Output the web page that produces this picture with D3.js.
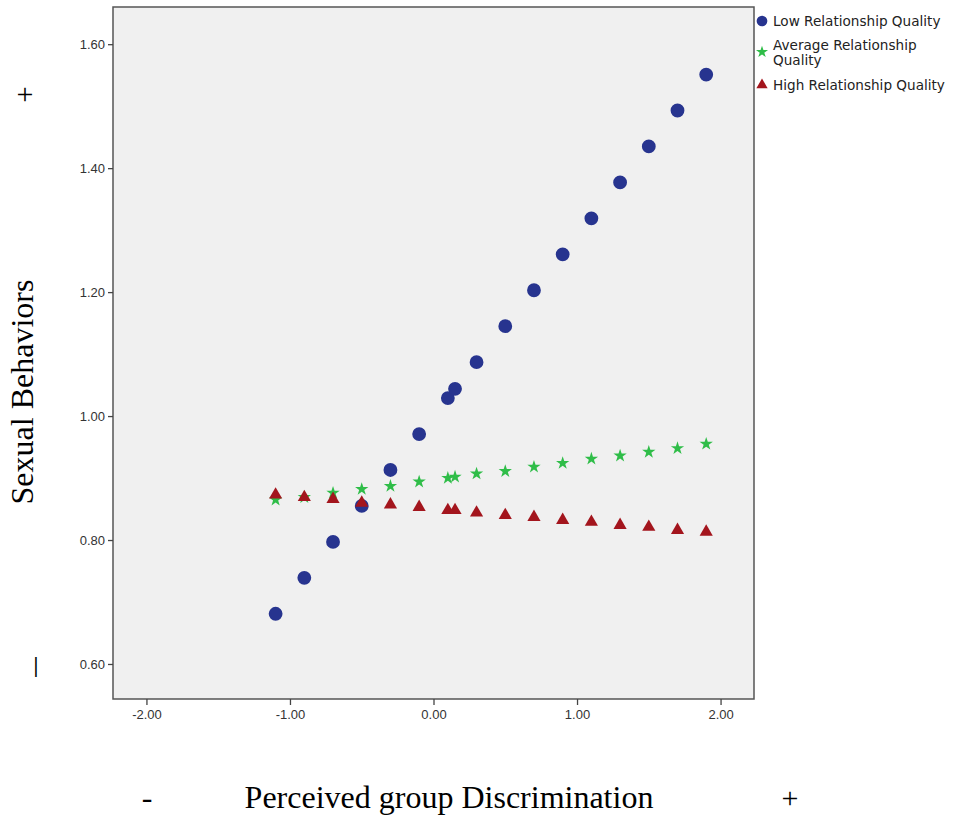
<!DOCTYPE html>
<html>
<head>
<meta charset="utf-8">
<script src="https://cdn.jsdelivr.net/npm/d3@7"></script>
<style>
  body { margin: 0; background: #fff; overflow: hidden; }
  svg { display: block; }
</style>
</head>
<body>
<svg></svg>
<script>
// Data
const xValues = [-1.1, -0.9, -0.7, -0.5, -0.3, -0.1, 0.1, 0.15, 0.3, 0.5, 0.7, 0.9, 1.1, 1.3, 1.5, 1.7, 1.9]
const lowQuality = [0.681, 0.739, 0.797, 0.855, 0.913, 0.971, 1.029, 1.044, 1.087, 1.145, 1.203, 1.261, 1.319, 1.377, 1.435, 1.493, 1.551]
const avgQuality = [0.865, 0.869, 0.876, 0.882, 0.887, 0.894, 0.900, 0.902, 0.907, 0.911, 0.918, 0.924, 0.931, 0.936, 0.942, 0.948, 0.955]
const highQuality = [0.873, 0.869, 0.866, 0.860, 0.857, 0.853, 0.848, 0.848, 0.844, 0.840, 0.837, 0.832, 0.829, 0.824, 0.821, 0.816, 0.813]
const seriesNames = ["Low Relationship Quality", "Average Relationship Quality", "High Relationship Quality"]
const xTicks = [-2, -1, 0, 1, 2]
const yTicks = [0.6, 0.8, 1.0, 1.2, 1.4, 1.6]

const width = 956
const height = 819

const svg = d3.select("svg")
    .attr("width", width)
    .attr("height", height)

const margin = { top: 7, left: 113 }
const innerWidth = 641
const innerHeight = 692

const xScale = d3.scaleLinear()
    .domain([-2.233, 2.233])
    .range([0, innerWidth])

const yScale = d3.scaleLinear()
    .domain([0.5435, 1.66])
    .range([innerHeight, 0])

const g = svg.append("g")
    .attr("transform", `translate(${margin.left}, ${margin.top})`)

// plot background
g.append("rect")
    .attr("width", innerWidth)
    .attr("height", innerHeight)
    .attr("fill", "#f0f0f0")
    .attr("stroke", "#555")
    .attr("stroke-width", 1.5)

// Axes (plain hyphen for negatives, like the original)
const fmt = d => d3.format(".2f")(d).replace("−", "-")
const xAxis = d3.axisBottom(xScale)
    .tickValues(xTicks)
    .tickFormat(fmt)
    .tickSize(6)
    .tickPadding(5)
const yAxis = d3.axisLeft(yScale)
    .tickValues(yTicks)
    .tickFormat(fmt)
    .tickSize(5)
    .tickPadding(3)

const xAxisG = g.append("g").call(xAxis)
    .attr("transform", `translate(0, ${innerHeight})`)
const yAxisG = g.append("g").call(yAxis)

;[xAxisG, yAxisG].forEach(a => {
    a.selectAll(".domain").remove()
    a.selectAll("line").attr("stroke", "#444").attr("stroke-width", 1.3)
    a.selectAll("text")
        .attr("fill", "#333")
        .attr("font-family", "Liberation Sans, Arial, sans-serif")
        .attr("font-size", "13px")
})

// Markers
const series = [
    { name: seriesNames[0], values: lowQuality, symbol: d3.symbolCircle, size: 150, color: "#27348f" },
    { name: seriesNames[1], values: avgQuality, symbol: d3.symbolStar, size: 55, color: "#2fbd48" },
    { name: seriesNames[2], values: highQuality, symbol: d3.symbolTriangle, size: 75, color: "#a3151d" }
]

series.forEach(s => {
    g.selectAll(null).data(xValues.map((x, i) => ({ x, y: s.values[i] })))
        .enter()
        .append("path")
        .attr("d", d3.symbol().type(s.symbol).size(s.size))
        .attr("transform", d => `translate(${xScale(d.x)}, ${yScale(d.y)})`)
        .attr("fill", s.color)
})

// Legend
const legend = svg.append("g")
    .attr("font-family", "DejaVu Sans, Verdana, sans-serif")
    .attr("font-size", "13.6px")
    .attr("fill", "#222")
const legendRows = [
    { y: 21, lines: ["Low Relationship Quality"], size: 90 },
    { y: 52, lines: ["Average Relationship", "Quality"], size: 45 },
    { y: 85, lines: ["High Relationship Quality"], size: 55 }
]
legendRows.forEach((r, i) => {
    legend.append("path")
        .attr("d", d3.symbol().type(series[i].symbol).size(r.size))
        .attr("transform", `translate(762, ${r.y})`)
        .attr("fill", series[i].color)
    const off = r.lines.length > 1 ? -7 : 0
    r.lines.forEach((t, j) => {
        legend.append("text")
            .attr("x", 773)
            .attr("y", r.y + off + j * 15 + 5)
            .text(t)
    })
})

// Axis titles
svg.append("text")
    .attr("transform", "translate(33, 392) rotate(-90)")
    .attr("text-anchor", "middle")
    .attr("font-family", "Liberation Serif, Times New Roman, serif")
    .attr("font-size", "32px")
    .attr("fill", "#000")
    .text("Sexual Behaviors")

svg.append("text")
    .attr("x", 449)
    .attr("y", 808)
    .attr("text-anchor", "middle")
    .attr("font-family", "Liberation Serif, Times New Roman, serif")
    .attr("font-size", "32px")
    .attr("fill", "#000")
    .text("Perceived group Discrimination")

const signs = [
    { x: 147, y: 808, t: "-", f: "32px", w: "normal" },
    { x: 790, y: 808, t: "+", f: "30px", w: "normal" },
    { x: 25, y: 104, t: "+", f: "30px", w: "normal" },
    { x: 36, y: 672, t: "|", f: "22px", w: "bold" }
]
svg.selectAll(null).data(signs).enter()
    .append("text")
    .attr("x", d => d.x)
    .attr("y", d => d.y)
    .attr("text-anchor", "middle")
    .attr("font-family", "Liberation Serif, Times New Roman, serif")
    .attr("font-size", d => d.f)
    .attr("font-weight", d => d.w)
    .style("fill", "#000")
    .text(d => d.t)
</script>
</body>
</html>
